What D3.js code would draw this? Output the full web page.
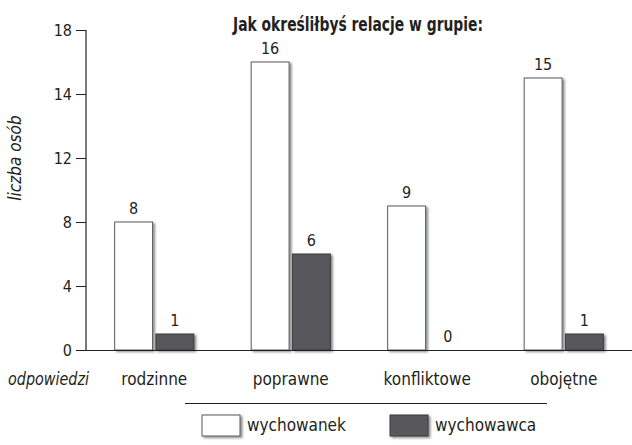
<!DOCTYPE html>
<html>
<head>
<meta charset="utf-8">
<script src="https://cdn.jsdelivr.net/npm/d3@7"></script>
<style>
  html, body { margin: 0; padding: 0; background: #fff; }
  svg { display: block; }
  text { font-family: "DejaVu Sans Condensed", "DejaVu Sans", sans-serif; font-stretch: condensed; fill: #231f20; }
</style>
</head>
<body>
<svg id="chart" width="632" height="445"></svg>
<script>
const title = "Jak określiłbyś relacje w grupie:";
const yAxisTitle = "liczba osób";
const xAxisTitle = "odpowiedzi";
const categories = ["rodzinne", "poprawne", "konfliktowe", "obojętne"];
const seriesNames = ["wychowanek", "wychowawca"];
const wychowanek = [8, 16, 9, 15];
const wychowawca = [1, 6, 0, 1];
const yTickLabels = [0, 4, 8, 12, 14, 18];

const svg = d3.select("#chart");
const plotLeft = 86, plotRight = 632, plotTop = 30, plotBottom = 350;

const defs = svg.append("defs");
const f = defs.append("filter").attr("id", "shadow").attr("x", "-20%").attr("y", "-20%").attr("width", "150%").attr("height", "150%");
f.append("feDropShadow").attr("dx", 2).attr("dy", 1.5).attr("stdDeviation", 1.2)
  .attr("flood-color", "#000").attr("flood-opacity", 0.45);

// y scale: evenly spaced tick labels, polylinear
const step = (plotBottom - plotTop) / (yTickLabels.length - 1);
const y = d3.scaleLinear()
  .domain(yTickLabels)
  .range(yTickLabels.map((d, i) => plotBottom - i * step));

const x0 = d3.scaleBand().domain(categories).range([plotLeft, plotRight])
  .paddingInner(0.42).paddingOuter(0.21);
const x1 = d3.scaleBand().domain(seriesNames).range([0, x0.bandwidth()]).paddingInner(0.08);

const colors = { wychowanek: "#ffffff", wychowawca: "#58595b" };
const strokes = { wychowanek: "#58595b", wychowawca: "#3a3a3a" };

// y axis
const yAxis = d3.axisLeft(y).tickValues(yTickLabels).tickSize(10).tickPadding(4).tickFormat(d3.format("d"));
const gy = svg.append("g").attr("transform", `translate(${plotLeft},0)`).call(yAxis);
gy.select(".domain").attr("stroke", "#231f20").attr("stroke-width", 1.2).attr("d", `M-0,${plotTop}V${plotBottom}`);
gy.selectAll(".tick line").attr("stroke", "#231f20");
gy.selectAll(".tick text").style("font-size", "16px").attr("fill", "#333");

// data
const data = categories.map((c, i) => ({ cat: c, values: [
  { key: "wychowanek", value: wychowanek[i] },
  { key: "wychowawca", value: wychowawca[i] }
]}));

const groups = svg.append("g").selectAll("g").data(data).join("g")
  .attr("transform", d => `translate(${x0(d.cat)},0)`);

groups.selectAll("rect").data(d => d.values.filter(v => v.value > 0)).join("rect")
  .attr("x", d => x1(d.key))
  .attr("y", d => y(d.value))
  .attr("width", x1.bandwidth())
  .attr("height", d => y(0) - y(d.value))
  .attr("fill", d => colors[d.key])
  .attr("stroke", d => strokes[d.key])
  .attr("stroke-width", 1)
  .attr("filter", "url(#shadow)");

groups.selectAll("text.val").data(d => d.values).join("text")
  .attr("class", "val")
  .attr("x", d => x1(d.key) + x1.bandwidth() / 2)
  .attr("y", d => y(d.value) - 8)
  .attr("text-anchor", "middle")
  .style("font-size", "16px")
  .attr("fill", "#333")
  .text(d => d.value);

// baseline
svg.append("line").attr("x1", plotLeft).attr("x2", plotRight)
  .attr("y1", y(0) + 0.5).attr("y2", y(0) + 0.5)
  .attr("stroke", "#231f20").attr("stroke-width", 1.2);

// x axis labels
svg.append("g").selectAll("text").data(categories).join("text")
  .attr("x", d => x0(d) + x0.bandwidth() / 2)
  .attr("y", 385)
  .attr("text-anchor", "middle")
  .style("font-size", "17px")
  .text(d => d);

svg.append("text").attr("x", 8).attr("y", 385)
  .style("font-size", "17px").style("font-style", "italic")
  .attr("textLength", 81).attr("lengthAdjust", "spacingAndGlyphs")
  .text(xAxisTitle);

// y title
svg.append("text")
  .attr("transform", `translate(21,158) rotate(-90)`)
  .attr("text-anchor", "middle")
  .style("font-size", "17px").style("font-style", "italic")
  .text(yAxisTitle);

// title
svg.append("text").attr("x", 358).attr("y", 31)
  .attr("text-anchor", "middle")
  .style("font-size", "20px").style("font-weight", "bold")
  .attr("textLength", 250).attr("lengthAdjust", "spacingAndGlyphs")
  .text(title);

// legend
svg.append("line").attr("x1", 185).attr("x2", 547).attr("y1", 403.5).attr("y2", 403.5)
  .attr("stroke", "#231f20").attr("stroke-width", 1);

const legendX = [202, 390];
const lg = svg.append("g").selectAll("g").data(seriesNames).join("g")
  .attr("transform", (d, i) => `translate(${legendX[i]},415)`);
lg.append("rect").attr("width", 38).attr("height", 21)
  .attr("fill", d => colors[d]).attr("stroke", d => strokes[d]).attr("stroke-width", 1)
  .attr("filter", "url(#shadow)");
lg.append("text").attr("x", 45).attr("y", 16)
  .style("font-size", "17px").text(d => d);
</script>
</body>
</html>
